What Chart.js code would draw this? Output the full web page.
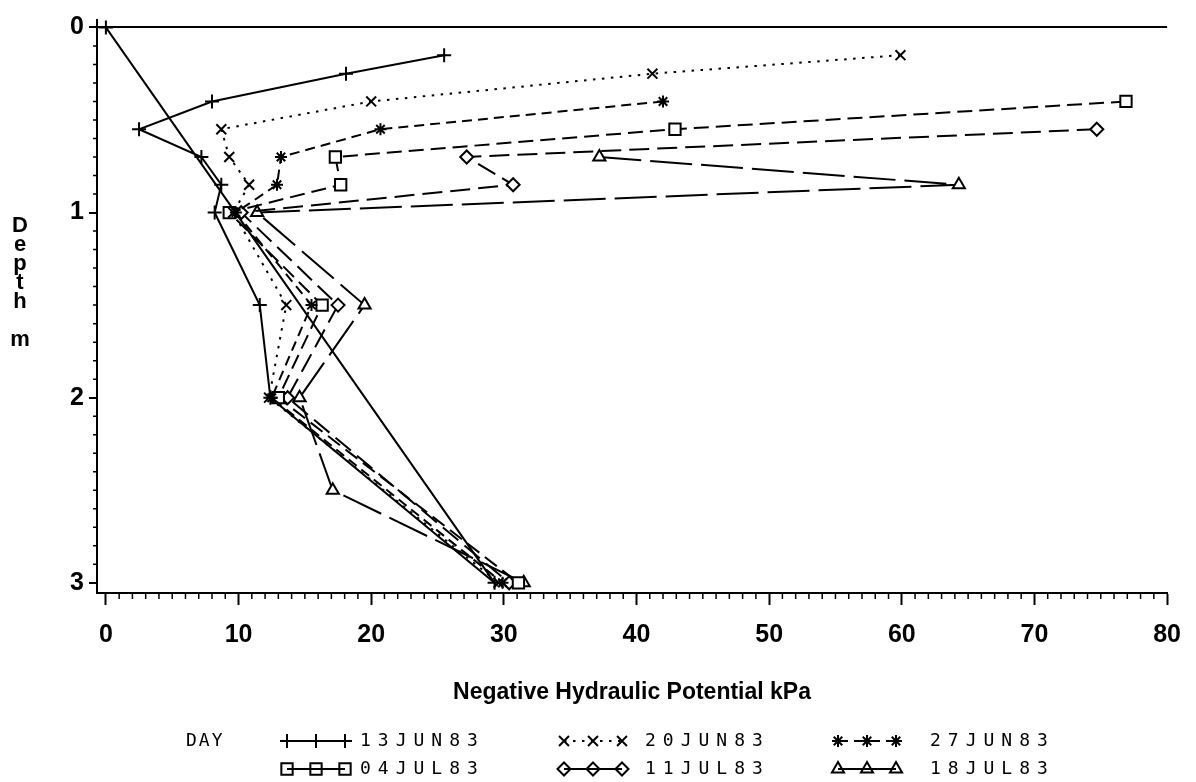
<!DOCTYPE html>
<html>
<head>
<meta charset="utf-8">
<title>Negative Hydraulic Potential by Depth</title>
<script src="https://cdn.jsdelivr.net/npm/chart.js@4.4.1/dist/chart.umd.min.js"></script>
<style>
  html, body { margin: 0; padding: 0; background: #fff; }
  canvas { display: block; }
</style>
</head>
<body>
<canvas id="potentialChart" width="1196" height="782"></canvas>
<script>
// one profile per measuring day
const dayLabels = ['13JUN83', '20JUN83', '27JUN83', '04JUL83', '11JUL83', '18JUL83'];

// depth in m and negative hydraulic potential in kPa
// 13jun ends back at the surface (0,0), thats the long straight line in the original
const depth13Jun = [0.15, 0.25, 0.4, 0.55, 0.7, 0.85, 1.0, 1.5, 2.0, 3.0, 0];
const kpa13Jun   = [25.5, 18.1, 8.0, 2.5, 7.2, 8.7, 8.2, 11.6, 12.4, 29.3, 0];

const depth20Jun = [0.15, 0.25, 0.4, 0.55, 0.7, 0.85, 1.0, 1.5, 2.0, 3.0];
const kpa20Jun   = [59.9, 41.2, 20.0, 8.7, 9.3, 10.8, 9.6, 13.6, 12.3, 29.6];

const depth27Jun = [0.4, 0.55, 0.7, 0.85, 1.0, 1.5, 2.0, 3.0];
const kpa27Jun   = [42.0, 20.7, 13.2, 12.9, 9.8, 15.5, 12.5, 29.9];

const depth04Jul = [0.4, 0.55, 0.7, 0.85, 1.0, 1.5, 2.0, 3.0];
const kpa04Jul   = [76.9, 42.9, 17.3, 17.7, 9.3, 16.3, 13.0, 31.1];

const depth11Jul = [0.55, 0.7, 0.85, 1.0, 1.5, 2.0, 3.0];
const kpa11Jul   = [74.7, 27.2, 30.7, 10.2, 17.5, 13.7, 30.4];

const depth18Jul = [0.7, 0.85, 1.0, 1.5, 2.0, 2.5, 3.0];
const kpa18Jul   = [37.2, 64.3, 11.4, 19.5, 14.6, 17.1, 31.5];

// axis tick labels
const xTickValues = [0, 10, 20, 30, 40, 50, 60, 70, 80];
const yTickValues = [0, 1, 2, 3];

// marker and line look for each day (same order as dayLabels)
const pointStyles = ['cross', 'crossRot', 'star', 'rect', 'rectRot', 'triangle'];
const pointSizes = [7, 7, 6, 8, 6.5, 7];
const lineDashes = [[], [2.5, 6.5], [10, 6], [15, 7], [20, 8], [42, 9]];

const allDepths = [depth13Jun, depth20Jun, depth27Jun, depth04Jul, depth11Jul, depth18Jul];
const allKpa = [kpa13Jun, kpa20Jun, kpa27Jun, kpa04Jul, kpa11Jul, kpa18Jul];

// build the scatter datasets from the arrays above
var datasets = [];
for (let i = 0; i < dayLabels.length; i++) {
    datasets.push({
        label: dayLabels[i],
        data: allKpa[i].map((v, j) => ({ x: v, y: allDepths[i][j] })),
        showLine: true,
        borderColor: '#000',
        borderWidth: 2,
        borderDash: lineDashes[i],
        pointStyle: pointStyles[i],
        pointRadius: pointSizes[i],
        pointBorderWidth: 2,
        pointBorderColor: '#000',
        pointBackgroundColor: '#fff'
    });
}

// stuff chart.js doesnt do by itself: minor ticks, stacked y title, the DAY legend
const extrasPlugin = {
    id: 'extras',
    afterDraw(chart) {
        const ctx = chart.ctx;
        const xs = chart.scales.x;
        const ys = chart.scales.y;
        ctx.save();
        ctx.strokeStyle = '#000';
        ctx.fillStyle = '#000';
        ctx.lineWidth = 1.5;

        // minor ticks, every 1 kPa and every 0.1 m
        ctx.beginPath();
        for (let v = 1; v < 80; v++) {
            if (v % 10 === 0) continue;
            const px = xs.getPixelForValue(v);
            ctx.moveTo(px, xs.top);
            ctx.lineTo(px, xs.top + 6);
        }
        for (let k = 1; k < 30; k++) {
            if (k % 10 === 0) continue;
            const py = ys.getPixelForValue(k / 10);
            ctx.moveTo(ys.right - 4, py);
            ctx.lineTo(ys.right, py);
        }
        ctx.stroke();

        // y title is written letter by letter, not rotated
        const yTitleLines = ['D', 'e', 'p', 't', 'h', '', 'm'];
        ctx.font = 'bold 22px "Liberation Sans"';
        ctx.textAlign = 'center';
        ctx.textBaseline = 'middle';
        yTitleLines.forEach((ch, i) => ctx.fillText(ch, 20, 226 + i * 19));

        // legend at the bottom, 3 columns 2 rows
        const rowY = [741, 769];
        const symbolX = [287, 564, 838];
        const textX = [360, 645, 930];
        const symbolW = 58;
        ctx.font = '18px "DejaVu Sans Mono"';
        ctx.textAlign = 'left';
        ctx.letterSpacing = '2px';
        ctx.fillText('DAY', 186, rowY[0]);
        ctx.letterSpacing = '7px';
        chart.data.datasets.forEach((ds, i) => {
            const y = rowY[Math.floor(i / 3)];
            const x0 = symbolX[i % 3];
            ctx.lineWidth = 2;
            ctx.setLineDash(i < 3 ? ds.borderDash : []);
            ctx.beginPath();
            ctx.moveTo(x0, y);
            ctx.lineTo(x0 + symbolW, y);
            ctx.stroke();
            ctx.setLineDash([]);
            // legend markers are open so the line shows through them
            ctx.fillStyle = 'rgba(0,0,0,0)';
            for (let m = 0; m < 3; m++) {
                Chart.helpers.drawPoint(ctx, {
                    pointStyle: ds.pointStyle,
                    radius: ds.pointRadius,
                    rotation: 0,
                    borderWidth: 2
                }, x0 + m * symbolW / 2, y);
            }
            ctx.fillStyle = '#000';
            ctx.fillText(ds.label, textX[i % 3], y);
        });
        ctx.restore();
    }
};

Chart.defaults.font.family = '"Liberation Sans", Arial, sans-serif';
Chart.defaults.color = '#000';

var ctx = document.getElementById('potentialChart').getContext('2d');
new Chart(ctx, {
    type: 'scatter',
    data: { datasets: datasets },
    options: {
        responsive: false,
        animation: false,
        layout: { padding: { top: 12, right: 18, bottom: 70, left: 0 } },
        plugins: {
            legend: { display: false },
            tooltip: { enabled: false }
        },
        scales: {
            x: {
                type: 'linear',
                min: -0.67,
                max: 80,
                afterBuildTicks: (scale) => { scale.ticks = xTickValues.map(v => ({ value: v })); },
                afterFit: (scale) => { scale.height = 119; },
                border: { display: true, color: '#000', width: 2 },
                grid: { drawOnChartArea: false, drawTicks: true, tickLength: 12, tickColor: '#000', tickWidth: 2 },
                ticks: { font: { size: 25, weight: 'bold' }, padding: 15, maxRotation: 0 },
                title: {
                    display: true,
                    text: 'Negative Hydraulic Potential kPa',
                    font: { size: 23, weight: 'bold' },
                    padding: { top: 4, bottom: 6 }
                }
            },
            y: {
                type: 'linear',
                reverse: true,
                min: -0.04,
                max: 3.055,
                afterBuildTicks: (scale) => { scale.ticks = yTickValues.map(v => ({ value: v })); },
                afterFit: (scale) => { scale.width = 97; },
                border: { display: true, color: '#000', width: 2 },
                // only the depth 0 line goes across the plot
                grid: {
                    drawOnChartArea: true,
                    tickLength: 8,
                    tickColor: '#000',
                    tickWidth: 2,
                    lineWidth: 2,
                    color: (c) => (c.tick && c.tick.value === 0 ? '#000' : 'rgba(0,0,0,0)')
                },
                ticks: { font: { size: 25, weight: 'bold' }, padding: 5 },
                title: { display: false }
            }
        }
    },
    plugins: [extrasPlugin]
});
</script>
</body>
</html>
